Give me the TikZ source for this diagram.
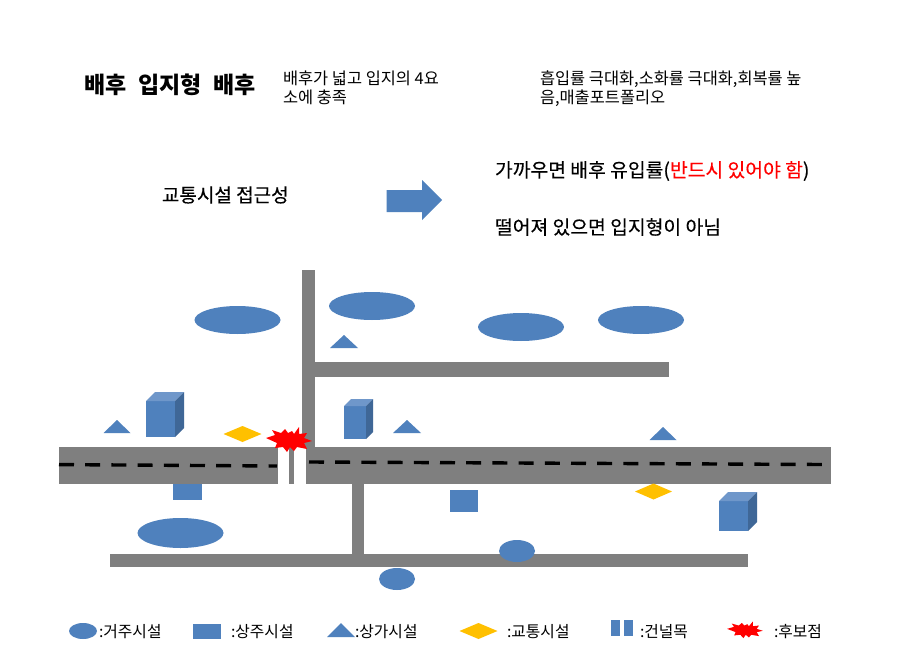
\documentclass[tikz,border=0pt]{standalone}
\usepackage{fontspec}
\setmainfont{Noto Sans CJK KR}
\newfontfamily\medfont[FakeBold=0.25]{Noto Sans CJK KR}
\usetikzlibrary{calc}
\definecolor{bluef}{HTML}{4F81BD}
\definecolor{bluet}{HTML}{6F97CA}
\definecolor{blues}{HTML}{3F6797}
\definecolor{roadg}{HTML}{7F7F7F}
\definecolor{amber}{HTML}{FFC000}
\newcommand{\pxfont}[2]{\fontsize{#1pt}{#2pt}\selectfont}
\tikzset{
  x=1pt,y=-1pt,
  road/.style={fill=roadg,draw=none},
  lbl/.style={anchor=west,inner sep=0pt,outer sep=0pt,text=black},
  legendtxt/.style={lbl,font=\pxfont{15.8}{19}},
  lane/.style={draw=black,line width=3.4pt},
  burst/.pic={
    \fill[red] (-23,-1)--(-14,-4)--(-17,-9)--(-8,-6)--(-4,-10)--(-1,-6)--(3,-8)--(5,-5)--(10,-12)--(10,-5)--(18,-6)--(15,-1)--(23,2)--(15,4)--(18,10)--(8,8)--(5,12)--(1,8)--(-2,13)--(-6,8)--(-14,9)--(-12,4)--cycle;
  }
}
\newcommand{\cube}[5]{% x1 y1 x2 y2 depth
  \fill[bluef] (#1,#2) rectangle (#3,#4);
  \fill[bluet] (#1,#2) -- ({#1+#5},{#2-#5}) -- ({#3+#5},{#2-#5}) -- (#3,#2) -- cycle;
  \fill[blues] (#3,#2) -- ({#3+#5},{#2-#5}) -- ({#3+#5},{#4-#5}) -- (#3,#4) -- cycle;
}
\newcommand{\tri}[4]{\fill[bluef] (#1,#4) -- (#2,#3) -- ({2*#2-#1},#4) -- cycle;}
\newcommand{\dia}[4]{\fill[amber] ({#1-#3},#2) -- (#1,{#2-#4}) -- ({#1+#3},#2) -- (#1,{#2+#4}) -- cycle;}
\begin{document}
\begin{tikzpicture}
\useasboundingbox (0,0) rectangle (900,669);
\fill[white] (0,0) rectangle (900,669);
% texts top
\node[lbl,font=\pxfont{23}{26}\bfseries] (title) at (84,85) {배후\hspace{6.5pt} 입지형\hspace{6.5pt} 배후};
\node[lbl,font=\pxfont{16.4}{19},align=left,anchor=base west] (t1) at (283,103) {배후가 넓고 입지의 4요\\소에 충족};
\node[lbl,font=\pxfont{16.4}{19},align=left,anchor=base west] (t2) at (540,103) {흡입률 극대화,소화률 극대화,회복률 높\\음,매출포트폴리오};
\node[lbl,font=\medfont\pxfont{19}{22}] (t3) at (162,195) {교통시설 접근성};
\node[lbl,font=\medfont\pxfont{19.3}{22}] (t4) at (495,171) {가까우면 배후 유입률(\textcolor{red}{반드시 있어야 함})};
\node[lbl,font=\medfont\pxfont{19.3}{22}] (t5) at (495,227) {떨어져 있으면 입지형이 아님};
% arrow
\fill[bluef] (386.5,190)--(422,190)--(422,180)--(442,200)--(422,220)--(422,212)--(386.5,212)--cycle;
% roads
\fill[road] (59,447) rectangle (278,484);
\fill[road] (289,447) rectangle (294,484);
\fill[road] (306,447) rectangle (831,484);
\fill[road] (302,270) rectangle (315,447);
\fill[road] (315,362) rectangle (669,377);
\fill[road] (352,484) rectangle (364,554);
\fill[road] (110,554) rectangle (748,567);
% lane marks
\coordinate (la) at (59,464.6);
\coordinate (lb) at (277,466);
\coordinate (ra) at (309,462);
\coordinate (rb) at (823,464.5);
\draw[lane,dash pattern=on 15pt off 11.2pt] (la) -- (lb);
\draw[lane,dash pattern=on 15pt off 11.2pt] (ra) -- (rb);
% ellipses
\fill[bluef] (237.5,320) ellipse [x radius=43,y radius=14];
\fill[bluef] (372,306) ellipse [x radius=43,y radius=14];
\fill[bluef] (521,327) ellipse [x radius=43,y radius=14];
\fill[bluef] (641,320) ellipse [x radius=43,y radius=14];
\fill[bluef] (180.5,533) ellipse [x radius=43,y radius=15];
\fill[bluef] (517,551) ellipse [x radius=18,y radius=11];
\fill[bluef] (397,579) ellipse [x radius=18,y radius=11];
% triangles
\tri{330}{344}{335}{348}
\tri{103.5}{117}{420}{433}
\tri{393}{407}{420}{433}
\tri{649.5}{663}{427}{440}
% cubes
\cube{146}{401}{175}{437}{9}
\cube{344}{406}{366}{439}{7}
\cube{719}{501}{748}{531}{9}
% rects
\fill[bluef] (173,484) rectangle (202,500);
\fill[bluef] (450,490) rectangle (478,512);
% diamonds
\dia{242.5}{434}{19}{8}
\dia{653.5}{491.5}{18.5}{8}
% burst
\pic at (289,439) {burst};
% legend
\fill[bluef] (83,631) ellipse [x radius=14,y radius=8];
\node[legendtxt] (l1) at (99,632) {:거주시설};
\fill[bluef] (193,624) rectangle (221,639);
\node[legendtxt] (l2) at (231,632) {:상주시설};
\tri{327}{341}{623}{637}
\node[legendtxt] (l3) at (355,632) {:상가시설};
\dia{478.5}{631}{19}{8}
\node[legendtxt] (l4) at (507,632) {:교통시설};
\fill[bluef] (611,620) rectangle (620,636);
\fill[bluef] (624,620) rectangle (633,636);
\node[legendtxt] (l5) at (640,632) {:건널목};
\pic[transform shape,xscale=.78,yscale=.66] at (745,629.5) {burst};
\node[legendtxt] (l6) at (774,632) {:후보점};
\end{tikzpicture}
\end{document}
